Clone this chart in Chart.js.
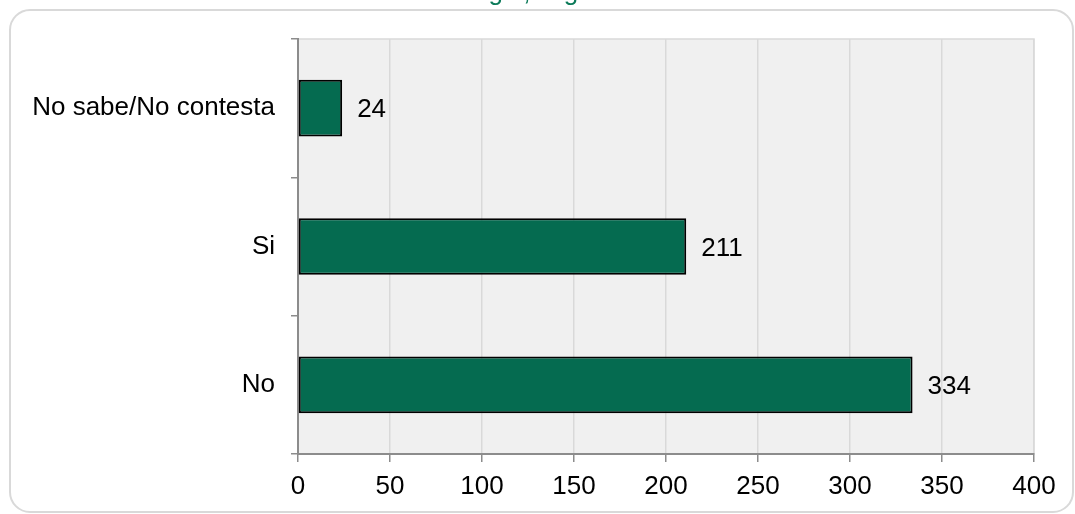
<!DOCTYPE html>
<html>
<head>
<meta charset="utf-8">
<script src="https://cdn.jsdelivr.net/npm/chart.js@4/dist/chart.umd.min.js"></script>
<style>
  html, body { margin: 0; padding: 0; background: #ffffff; }
  #wrap { position: relative; width: 1075px; height: 514px; overflow: hidden; }
  canvas { display: block; }
</style>
</head>
<body>
<div id="wrap"><canvas id="c" width="1075" height="514"></canvas></div>
<script>
const titleText = "Estatales - Colegio, Argentina 2019";
const categories = ["No sabe/No contesta", "Si", "No"];
const values = [24, 211, 334];
const xTicks = [0, 50, 100, 150, 200, 250, 300, 350, 400];

const FONT = "'Liberation Sans', Arial, sans-serif";
const BAR_COLOR = "#056b50";
const GRID = "#d9d9d9";
const AXIS = "#8c8c8c";

const decor = {
  id: 'decor',
  beforeDraw(chart) {
    const ctx = chart.ctx;
    const a = chart.chartArea;
    ctx.save();
    ctx.fillStyle = '#ffffff';
    ctx.fillRect(0, 0, chart.width, chart.height);
    // outer rounded frame
    ctx.strokeStyle = GRID;
    ctx.lineWidth = 2;
    ctx.beginPath();
    ctx.roundRect(10, 10, 1063, 502, 20);
    ctx.stroke();
    // plot background
    ctx.fillStyle = '#f0f0f0';
    ctx.fillRect(a.left, a.top, a.right - a.left, a.bottom - a.top);
    ctx.strokeStyle = GRID;
    ctx.lineWidth = 1.5;
    ctx.strokeRect(a.left, a.top, a.right - a.left, a.bottom - a.top);
    // clipped title
    ctx.fillStyle = '#0b7a59';
    ctx.font = '26px ' + FONT;
    ctx.textAlign = 'left';
    ctx.textBaseline = 'alphabetic';
    ctx.fillText(titleText, 305, 0);
    ctx.restore();
  },
  afterDatasetsDraw(chart) {
    const ctx = chart.ctx;
    const meta = chart.getDatasetMeta(0);
    ctx.save();
    ctx.fillStyle = '#000000';
    ctx.font = '26px ' + FONT;
    ctx.textAlign = 'left';
    ctx.textBaseline = 'middle';
    meta.data.forEach((bar, i) => {
      ctx.fillText(String(values[i]), bar.x + 15, bar.y + 2);
    });
    ctx.restore();
  }
};

new Chart(document.getElementById('c'), {
  type: 'bar',
  data: {
    labels: categories,
    datasets: [{
      data: values,
      backgroundColor: BAR_COLOR,
      borderColor: '#000000',
      borderWidth: 2,
      borderSkipped: false,
      barPercentage: 0.41,
      categoryPercentage: 1.0
    }]
  },
  options: {
    indexAxis: 'y',
    responsive: false,
    animation: false,
    devicePixelRatio: 1,
    layout: { padding: { top: 39, right: 41, left: 0, bottom: 0 } },
    plugins: { legend: { display: false }, title: { display: false }, tooltip: { enabled: false } },
    scales: {
      x: {
        min: 0, max: 400,
        afterBuildTicks(scale) { scale.ticks = xTicks.map(v => ({ value: v })); },
        afterFit(scale) { scale.height = 60; },
        grid: { color: GRID, lineWidth: 1.5, tickColor: AXIS, tickLength: 8, drawTicks: true },
        border: { color: AXIS, width: 2 },
        ticks: { color: '#000000', font: { size: 26, family: FONT }, padding: 9, maxRotation: 0 }
      },
      y: {
        afterFit(scale) { scale.width = 298; },
        grid: { drawOnChartArea: false, tickColor: AXIS, tickLength: 7, offset: true, lineWidth: 1.5 },
        border: { color: AXIS, width: 2 },
        ticks: { color: '#000000', font: { size: 26, family: FONT }, padding: 16 }
      }
    }
  },
  plugins: [decor]
});
</script>
</body>
</html>
